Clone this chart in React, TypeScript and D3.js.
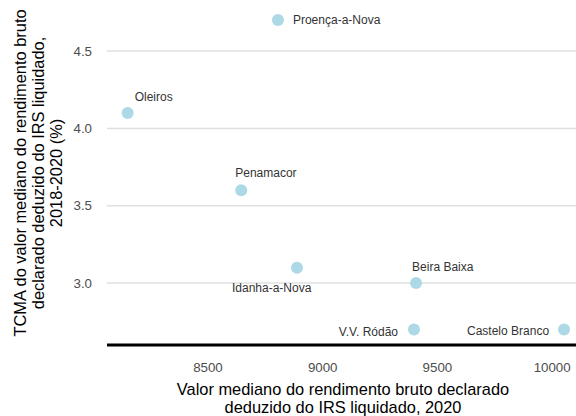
import * as d3 from "d3";

const municipios = ["Proença-a-Nova", "Oleiros", "Penamacor", "Idanha-a-Nova", "Beira Baixa", "V.V. Ródão", "Castelo Branco"];
const rendimento = [8805, 8150, 8645, 8888, 9407, 9398, 10052];
const tcma = [4.7, 4.1, 3.6, 3.1, 3.0, 2.7, 2.7];

const xTicks = [8500, 9000, 9500, 10000];
const yTicks = [3.0, 3.5, 4.0, 4.5];

// label placement relative to point: dx, dy, anchor
const labelPos: [number, number, string][] = [
  [15, 0, "start"],
  [7, -16, "start"],
  [-6, -17, "start"],
  [-65, 20, "start"],
  [-4, -16, "start"],
  [-16, 2, "end"],
  [-15, 1, "end"],
];

const W = 576;
const H = 416;
const left = 107;
const right = 576;
const top = 0;
const bottom = 345;

export default function App() {
  const x = d3.scaleLinear().domain([8060, 10104]).range([left, right]);
  const y = d3.scaleLinear().domain([2.6, 4.83]).range([bottom, top]);
  const font = "Liberation Sans, Arial, sans-serif";

  return (
    <svg width={W} height={H} style={{ position: "absolute", left: 0, top: 0 }} fontFamily={font}>
      <rect width={W} height={H} fill="#fff" />
      {yTicks.map((t) => (
        <g key={t}>
          <line x1={left} x2={right} y1={y(t)} y2={y(t)} stroke="#e0e0e0" strokeWidth={1.5} />
          <text x={92} y={y(t)} dy="0.35em" textAnchor="end" fontSize={13.3} fill="#4d4d4d">
            {d3.format(".1f")(t)}
          </text>
        </g>
      ))}
      {xTicks.map((t) => (
        <text key={t} x={x(t)} y={bottom + 22} dy="0.35em" textAnchor="middle" fontSize={13.3} fill="#4d4d4d">
          {t}
        </text>
      ))}
      <line x1={left} x2={right} y1={bottom} y2={bottom} stroke="#000" strokeWidth={3} />
      {municipios.map((m, i) => (
        <circle key={m} cx={x(rendimento[i])} cy={y(tcma[i])} r={6} fill="#add8e6" />
      ))}
      {municipios.map((m, i) => {
        const [dx, dy, anchor] = labelPos[i];
        return (
          <text key={m} x={x(rendimento[i]) + dx} y={y(tcma[i]) + dy} dy="0.35em" textAnchor={anchor} fontSize={12} fill="#333">
            {m}
          </text>
        );
      })}
      <text x={343} y={389} dy="0.35em" textAnchor="middle" fontSize={16.4} fill="#000">
        Valor mediano do rendimento bruto declarado
      </text>
      <text x={343} y={407} dy="0.35em" textAnchor="middle" fontSize={16.4} fill="#000">
        deduzido do IRS liquidado, 2020
      </text>
      <g transform="translate(0,173) rotate(-90)" fontSize={16.4} fill="#000" textAnchor="middle">
        <text x={0} y={20} dy="0.35em">TCMA do valor mediano do rendimento bruto</text>
        <text x={0} y={38} dy="0.35em">declarado deduzido do IRS liquidado,</text>
        <text x={0} y={56} dy="0.35em">2018-2020 (%)</text>
      </g>
    </svg>
  );
}
